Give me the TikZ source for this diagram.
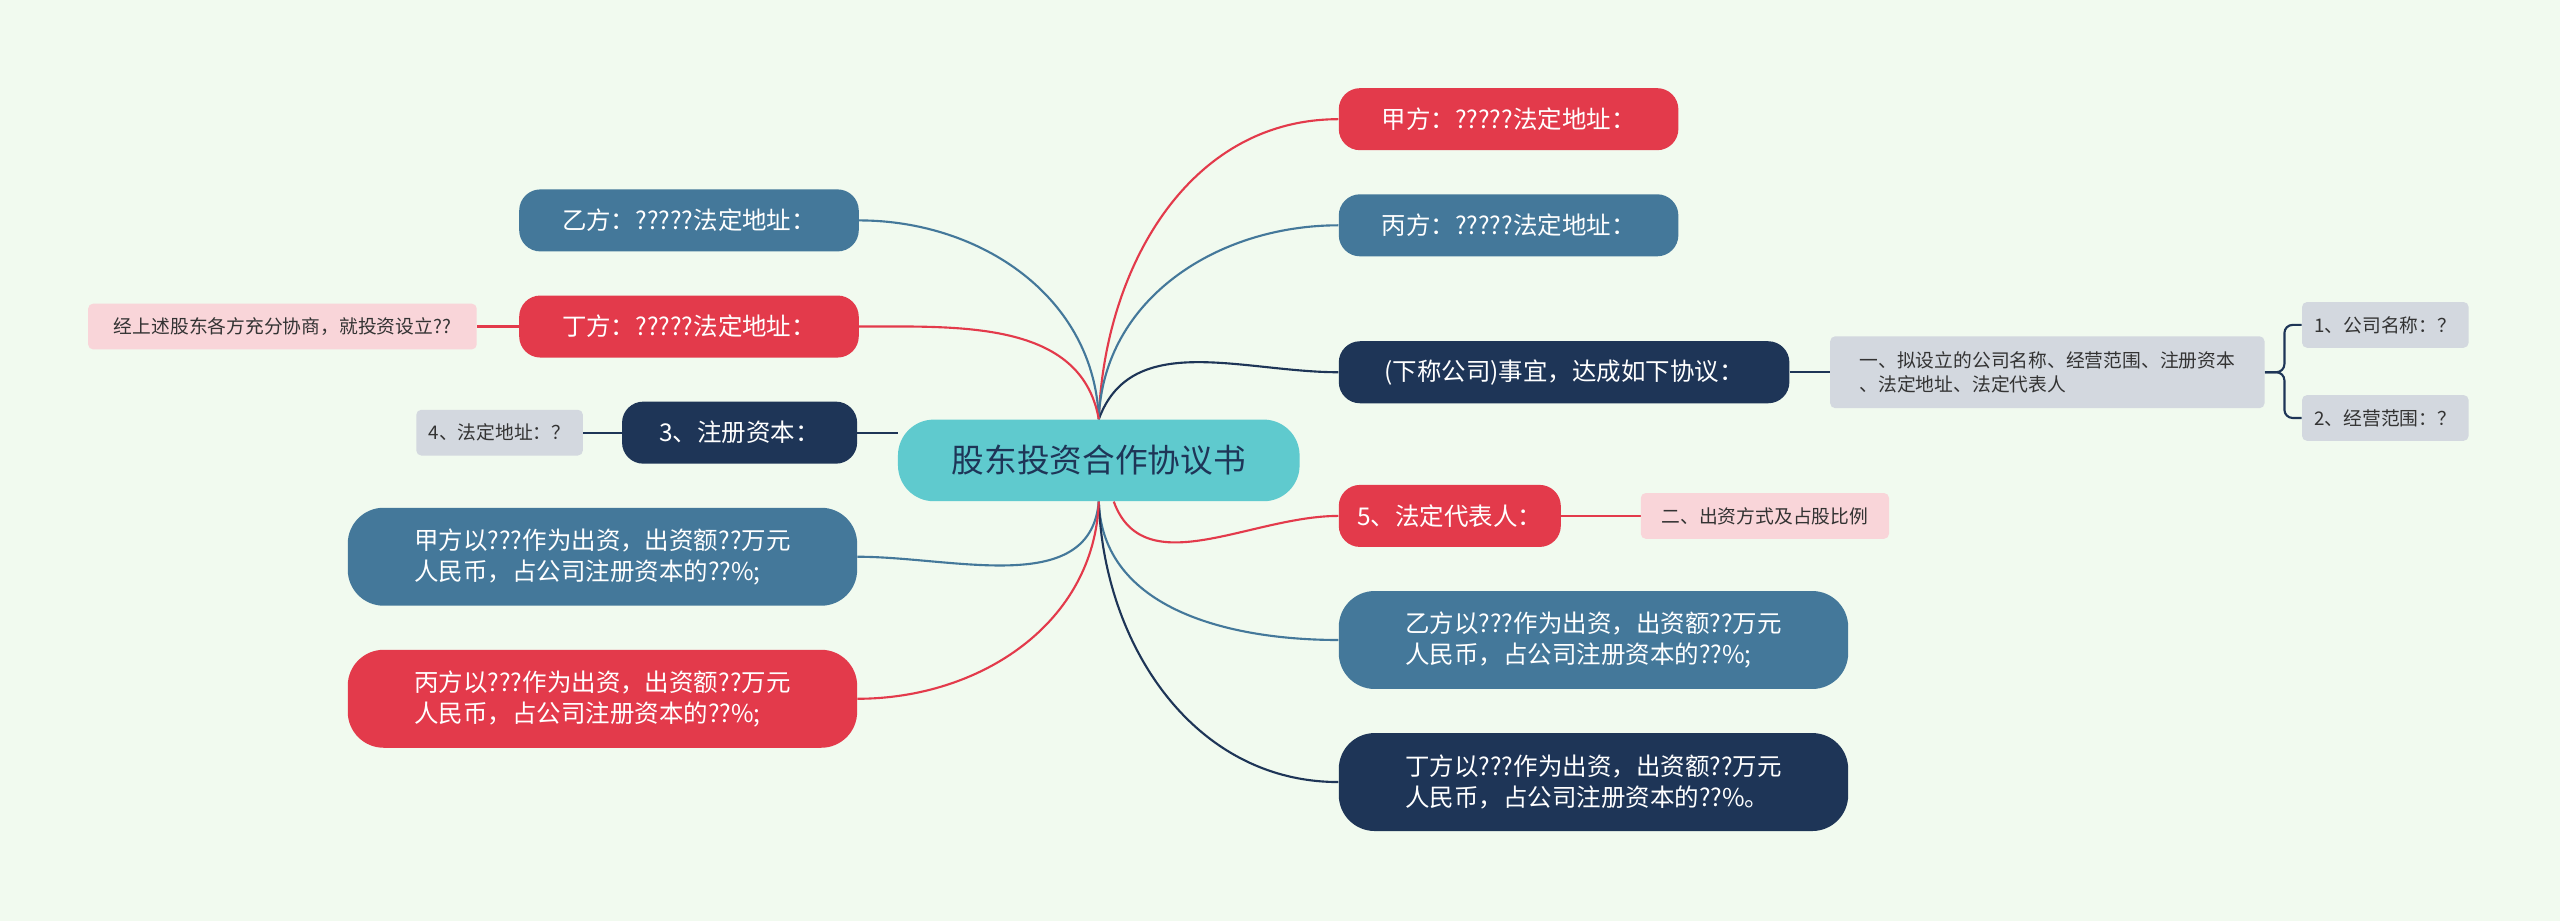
\documentclass[tikz,border=0pt]{standalone}
\usepackage{fontspec}
\setmainfont{Noto Sans CJK SC}
\usetikzlibrary{positioning}
\definecolor{bgc}{HTML}{F1FAEF}
\definecolor{redc}{HTML}{E33A4B}
\definecolor{bluec}{HTML}{44789A}
\definecolor{navyc}{HTML}{1E3557}
\definecolor{tealc}{HTML}{5FCACE}
\definecolor{pinkc}{HTML}{F9D5D9}
\definecolor{greyc}{HTML}{D3D8DF}
\pgfdeclarelayer{back}
\pgfdeclarelayer{bg}
\pgfsetlayers{back,bg,main}
\tikzset{
  topic/.style={rounded corners=13pt,text=white,font=\fontsize{15}{19}\selectfont,inner sep=0pt,minimum height=38pt},
  wide/.style={topic,align=left,minimum height=60pt,minimum width=312pt,rounded corners=22pt},
  leaf/.style={rounded corners=3pt,text=black!80,font=\fontsize{11.5}{15}\selectfont,inner sep=0pt,minimum height=28pt},
  link/.style={line width=1.3pt}
}
\begin{document}
\begin{tikzpicture}[x=1pt,y=-1pt]
\begin{pgfonlayer}{back}
\fill[bgc] (0,0) rectangle (1568,564);
\end{pgfonlayer}
\useasboundingbox (0,0) rectangle (1568,564);
\node [fill=tealc,rounded corners=22pt,minimum width=246pt,minimum height=50pt,font=\fontsize{20}{24}\selectfont,text=navyc] (root) at (673,282) {股东投资合作协议书};
% right side
\node [topic,fill=redc,minimum width=208pt] (jia) at (924,73) {甲方：?????法定地址：};
\node [topic,fill=bluec,minimum width=208pt] (bing) at (924,138) {丙方：?????法定地址：};
\node [topic,fill=navyc,minimum width=276pt] (xia) at (958,228) {(下称公司)事宜，达成如下协议：};
\node [topic,fill=redc,minimum width=136pt] (fd) at (888,316) {5、法定代表人：};
\node [wide,fill=bluec] (yichu) at (976,392) {乙方以???作为出资，出资额??万元\\人民币，占公司注册资本的??\%;};
\node [wide,fill=navyc] (dingchu) at (976,479) {丁方以???作为出资，出资额??万元\\人民币，占公司注册资本的??\%。};
% left side
\node [topic,fill=bluec,minimum width=208pt] (yi) at (422,135) {乙方：?????法定地址：};
\node [topic,fill=redc,minimum width=208pt] (ding) at (422,200) {丁方：?????法定地址：};
\node [topic,fill=navyc,minimum width=144pt] (zc) at (453,265) {3、注册资本：};
\node [wide,fill=bluec] (jiachu) at (369,341) {甲方以???作为出资，出资额??万元\\人民币，占公司注册资本的??\%;};
\node [wide,fill=redc] (bingchu) at (369,428) {丙方以???作为出资，出资额??万元\\人民币，占公司注册资本的??\%;};
% leaves
\node [leaf,fill=pinkc,minimum width=238pt] (xs) at (173,200) {经上述股东各方充分协商，就投资设立??};
\node [leaf,fill=greyc,minimum width=102pt] (dz) at (306,265) {4、法定地址：？};
\node [leaf,fill=pinkc,minimum width=152pt] (cz) at (1081,316) {二、出资方式及占股比例};
\node [leaf,fill=greyc,minimum width=266pt,minimum height=44pt,align=left] (ni) at (1254,228) {一、拟设立的公司名称、经营范围、注册资本\\、法定地址、法定代表人};
\node [leaf,fill=greyc,minimum width=102pt] (mc) at (1461,199) {1、公司名称：？};
\node [leaf,fill=greyc,minimum width=102pt] (fw) at (1461,256) {2、经营范围：？};
\begin{pgfonlayer}{bg}
\draw [link,redc] (root.north) to[out=88,in=180] (jia.west);
\draw [link,bluec] (root.north) to[out=88,in=180] (bing.west);
\draw [link,navyc] (root.north) to[out=70,in=180] (xia.west);
\draw [link,redc] (root) to[out=-70,in=180] (fd.west);
\draw [link,bluec] (root.south) to[out=-88,in=180] (yichu.west);
\draw [link,navyc] (root.south) to[out=-88,in=180] (dingchu.west);
\draw [link,bluec] (root.north) to[out=92,in=0] (yi.east);
\draw [link,redc] (root.north) to[out=100,in=0] (ding.east);
\draw [link,navyc] (zc.east) -- (root.west |- zc.east);
\draw [link,bluec] (root.south) to[out=-95,in=0] (jiachu.east);
\draw [link,redc] (root.south) to[out=-92,in=0] (bingchu.east);
\draw [link,redc] (ding.west) -- (xs.east);
\draw [link,navyc] (zc.west) -- (dz.east);
\draw [link,redc] (fd.east) -- (cz.west);
\draw [link,navyc] (xia.east) -- (ni.west);
\draw [link,navyc,rounded corners=5pt] (ni.east) -- ++(12,0) |- (mc.west);
\draw [link,navyc,rounded corners=5pt] (ni.east) -- ++(12,0) |- (fw.west);
\end{pgfonlayer}
\end{tikzpicture}
\end{document}
